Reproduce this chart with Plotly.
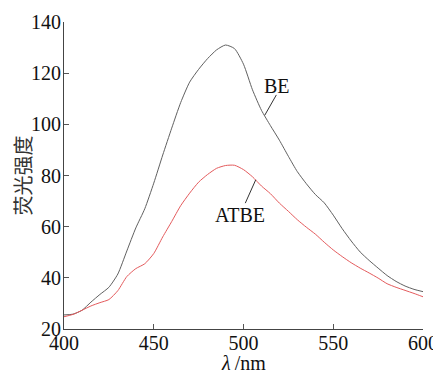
import plotly.graph_objects as go

wavelength = [400, 405, 410, 415, 420, 425, 430, 435, 440, 445, 450, 455, 460, 465, 470,
              475, 480, 485, 490, 495, 500, 505, 510, 515, 520, 525, 530, 535, 540, 545,
              550, 555, 560, 565, 570, 575, 580, 585, 590, 595, 600]
be = [25.5, 25.8, 27.3, 30.5, 33.5, 36.3, 41.5, 50.5, 59.5, 67.0, 77.0, 88.0, 98.5, 108.5, 116.5,
      121.5, 125.7, 129.1, 131.0, 129.6, 123.5, 113.5, 105.5, 99.5, 93.8, 87.5, 81.5, 76.8, 72.6, 69.3,
      64.5, 59.2, 54.4, 50.1, 46.8, 43.8, 40.9, 38.6, 36.8, 35.5, 34.6]
atbe = [24.8, 25.7, 27.3, 29.0, 30.3, 31.5, 35.0, 40.5, 43.6, 45.5, 49.5, 56.0, 62.0, 68.2, 73.1,
        77.4, 80.4, 82.8, 83.9, 84.0, 82.3, 79.5, 75.9, 72.9, 69.2, 66.0, 62.7, 59.8, 57.1, 53.9,
        50.9, 48.3, 45.9, 43.8, 41.9, 39.9, 37.7, 36.3, 35.1, 33.9, 32.6]

x_ticks = [400, 450, 500, 550, 600]
y_ticks = [20, 40, 60, 80, 100, 120, 140]
x_title = "<i>λ</i>\u2009/nm"
y_title = "荧光强度"

# labels: (text, text x, text y, pointer start x, y, pointer end x, y)
label_be = ("BE", 518.5, 115.0, 511.8, 103.5, 518.3, 111.5)
label_atbe = ("ATBE", 497.9, 64.6, 506.8, 78.3, 501.0, 69.2)

serif = "Liberation Serif"

fig = go.Figure()
fig.add_trace(go.Scatter(x=wavelength, y=be, mode="lines", line=dict(color="#606060", width=1, shape="spline", smoothing=0.6),
                         name="BE", showlegend=False))
fig.add_trace(go.Scatter(x=wavelength, y=atbe, mode="lines", line=dict(color="#e45a5c", width=1, shape="spline", smoothing=0.6),
                         name="ATBE", showlegend=False))

for lab in (label_be, label_atbe):
    text, tx, ty, x0, y0, x1, y1 = lab
    fig.add_shape(type="line", xref="x", yref="y", x0=x0, y0=y0, x1=x1, y1=y1,
                  line=dict(color="#333333", width=1))
    fig.add_annotation(x=tx, y=ty, xref="x", yref="y", text=text, showarrow=False,
                       font=dict(family=serif, size=20, color="#111111"))

# axis titles
fig.add_annotation(x=0.5, y=0, xref="paper", yref="paper", text=x_title, showarrow=False,
                   xanchor="center", yanchor="middle", yshift=-34,
                   font=dict(family=serif, size=20, color="#111111"))
fig.add_annotation(x=0, y=0.5, xref="paper", yref="paper", text=y_title, showarrow=False,
                   xanchor="center", yanchor="middle", xshift=-42, textangle=-90,
                   font=dict(family="Noto Sans CJK SC", size=20, color="#333333"))

# page body has an 8px margin, so the figure is sized to end at the window edge
fig.update_layout(
    width=433, height=366,
    margin=dict(l=56, r=18, t=14, b=45, autoexpand=False),
    paper_bgcolor="white", plot_bgcolor="white",
    font=dict(family=serif, size=20, color="#111111"),
)
fig.update_xaxes(range=[400, 600], tickvals=x_ticks, ticks="inside", ticklen=5, tickcolor="#555555",
                 showline=True, linecolor="#444444", linewidth=1, showgrid=False, zeroline=False,
                 automargin=False, ticklabelstandoff=-4,
                 tickfont=dict(family=serif, size=20, color="#111111"))
fig.update_yaxes(range=[20, 140], tickvals=y_ticks, ticks="inside", ticklen=5, tickcolor="#555555",
                 showline=True, linecolor="#444444", linewidth=1, showgrid=False, zeroline=False,
                 automargin=False, ticklabelstandoff=-2,
                 tickfont=dict(family=serif, size=20, color="#111111"))

fig.write_html("out.html")
